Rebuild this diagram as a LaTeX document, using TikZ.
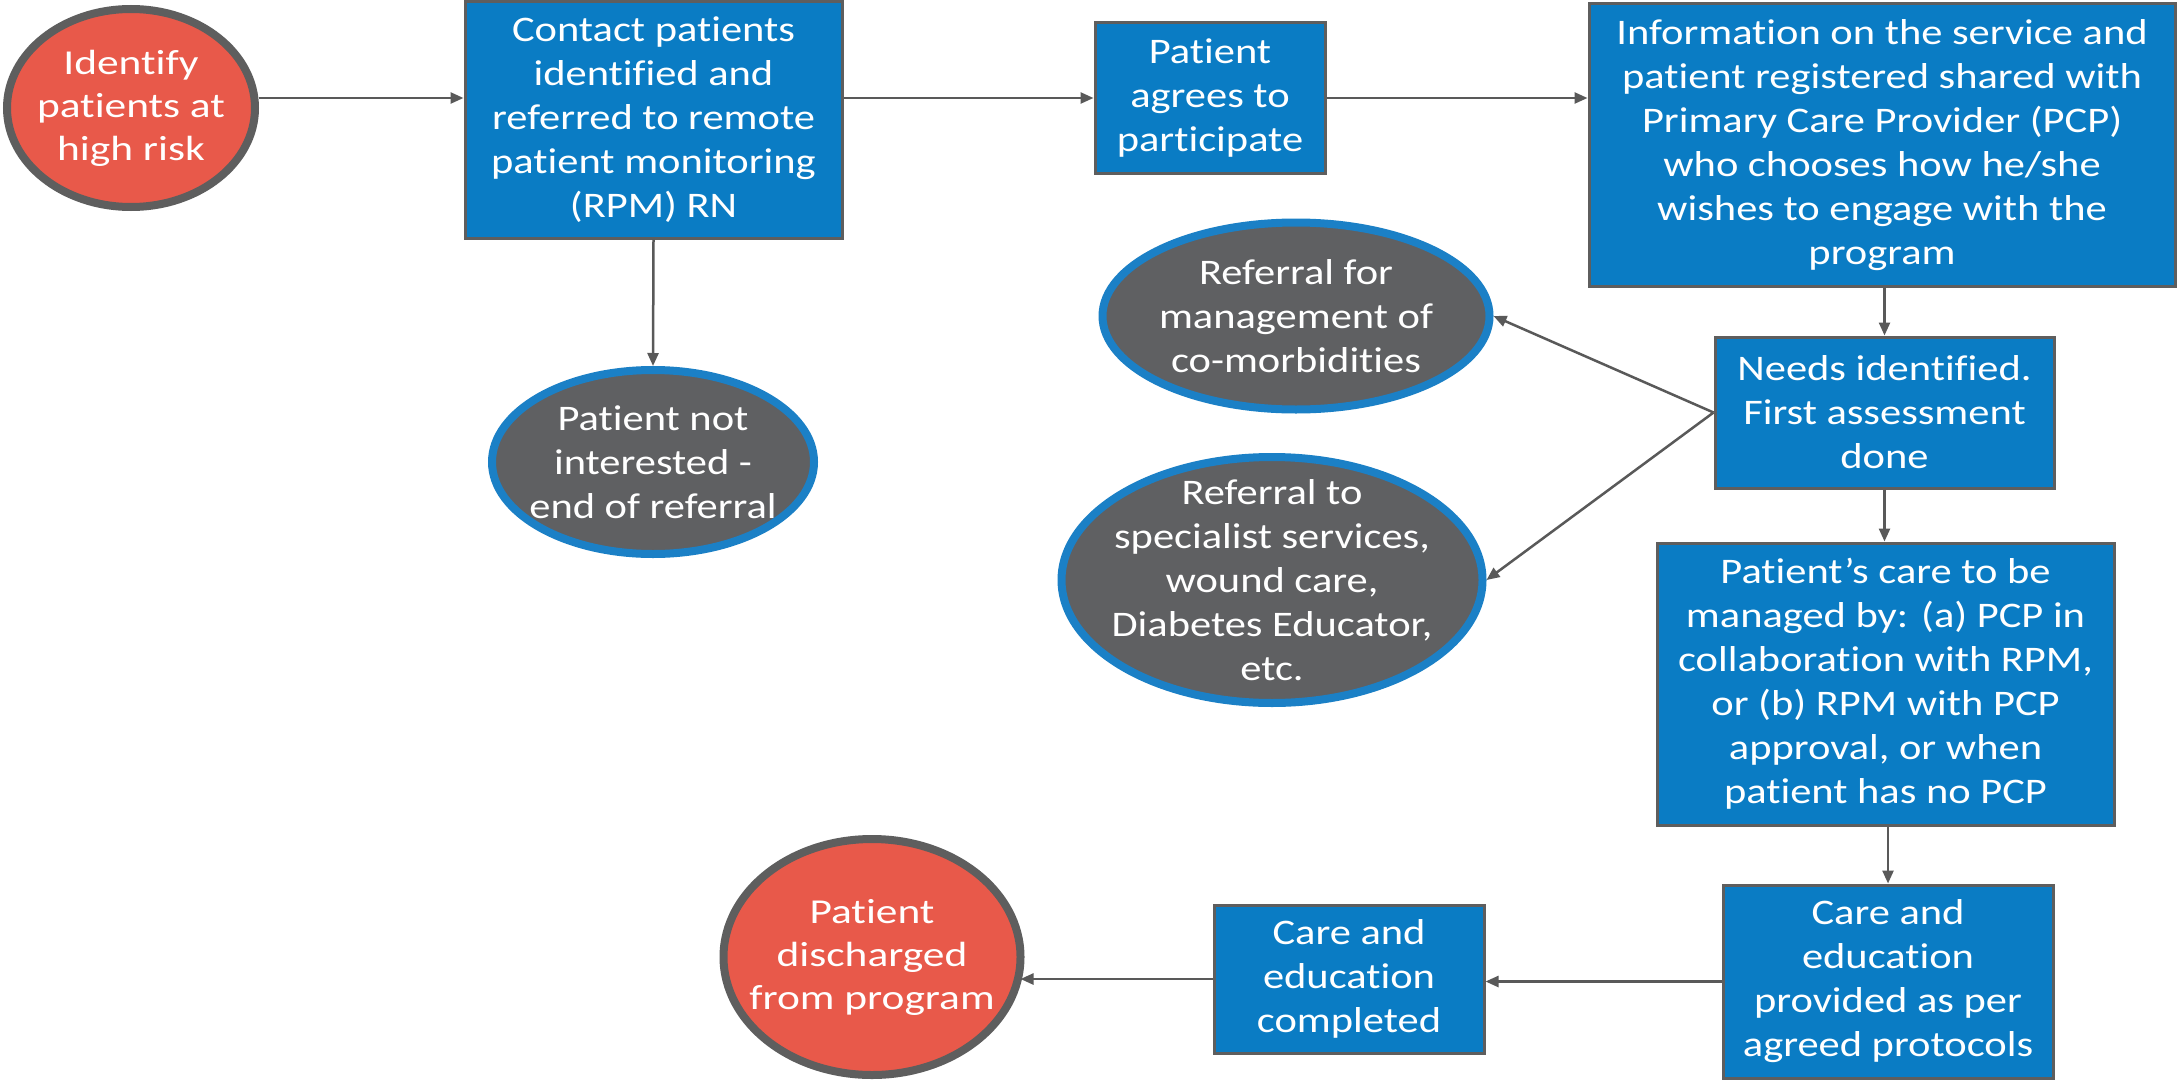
\documentclass[tikz,border=0pt]{standalone}
\usepackage{fontspec}
\setmainfont[Ligatures=CommonOff]{Carlito}
\newfontfamily\widefont[FakeStretch=1.18, Ligatures=CommonOff]{Carlito}
\newfontfamily\redfont[FakeStretch=1.24, Ligatures=CommonOff]{Carlito}
\usetikzlibrary{arrows.meta,shapes.geometric}
\definecolor{boxblue}{HTML}{0A7CC4}
\definecolor{edgegray}{HTML}{5E5E5E}
\definecolor{ellgray}{HTML}{5F6062}
\definecolor{ellred}{HTML}{E8594A}
\definecolor{ringblue}{HTML}{1B80C6}
\definecolor{arrowgray}{HTML}{595959}
\tikzset{
  txt/.style={text=white, align=center, font=\widefont\fontsize{36}{44}\selectfont, inner sep=0pt},
  bluebox/.style={txt, rectangle, fill=boxblue, draw=edgegray, line width=3pt},
  redell/.style={txt, ellipse, inner sep=-40pt, fill=ellred, draw=edgegray, line width=8pt, font=\redfont\fontsize{35}{43}\selectfont},
  grayell/.style={txt, ellipse, inner sep=-40pt, fill=ellgray, draw=ringblue, line width=8pt},
  flow/.style={draw=arrowgray, line width=2.5pt, -{Triangle[length=13pt,width=11pt]}},
}
\begin{document}
\begin{tikzpicture}[x=1pt,y=-1pt]
\useasboundingbox[fill=white] (0,0) rectangle (2178,1081);

\node[redell, minimum width=248pt, minimum height=198pt] (identify) at (131,108) {Identify\\patients at\\high risk};
\node[bluebox, minimum width=377pt, minimum height=236pt] (contact) at (653.5,120) {Contact patients\\identified and\\referred to remote\\patient monitoring\\(RPM) RN};
\node[bluebox, minimum width=230pt, minimum height=150pt] (agrees) at (1210,98) {Patient\\agrees to\\participate};
\node[bluebox, minimum width=586pt, minimum height=282pt] (info) at (1882,145) {Information on the service and\\patient registered shared with\\Primary Care Provider (PCP)\\who chooses how he/she\\wishes to engage with the\\program};
\node[grayell, minimum width=387pt, minimum height=187pt] (mgmt) at (1296,316) {Referral for\\management of\\co-morbidities};
\node[bluebox, minimum width=339pt, minimum height=151pt] (needs) at (1884.5,412.5) {Needs identified.\\First assessment\\done};
\node[grayell, minimum width=322pt, minimum height=184pt] (notint) at (653,462) {Patient not\\interested -\\end of referral};
\node[grayell, minimum width=421pt, minimum height=246pt] (spec) at (1272,580) {Referral to\\specialist services,\\wound care,\\Diabetes Educator,\\etc.};
\node[bluebox, minimum width=457pt, minimum height=282pt] (care) at (1885.5,684) {Patient’s care to be\\managed by: (a) PCP in\\collaboration with RPM,\\or (b) RPM with PCP\\approval, or when\\patient has no PCP};
\node[bluebox, minimum width=330pt, minimum height=193pt] (provided) at (1888,981.5) {Care and\\education\\provided as per\\agreed protocols};
\node[bluebox, minimum width=270pt, minimum height=148pt] (completed) at (1349,979) {Care and\\education\\completed};
\node[redell, minimum width=297pt, minimum height=236pt] (discharged) at (872,957) {Patient\\discharged\\from program};

\draw[flow] ([yshift=10pt]identify.east) -- (contact.west |- agrees.west);
\draw[flow] (contact.east |- agrees.west) -- (agrees.west);
\draw[flow] (agrees.east) -- (info.west |- agrees.east);
\draw[flow] (contact.south) -- (notint.north);
\draw[flow] (needs.north |- info.south) -- (needs.north);
\draw[flow] (needs.west) -- (mgmt.east);
\draw[flow] (needs.west) -- (spec.east);
\draw[flow] (needs.south) -- (needs.south |- care.north);
\draw[flow] (provided.north |- care.south) -- (provided.north);
\draw[flow] (provided.west) -- (completed.east |- provided.west);
\draw[flow] (completed.west) -- ([xshift=-4pt]discharged.east |- completed.west);
\end{tikzpicture}
\end{document}
